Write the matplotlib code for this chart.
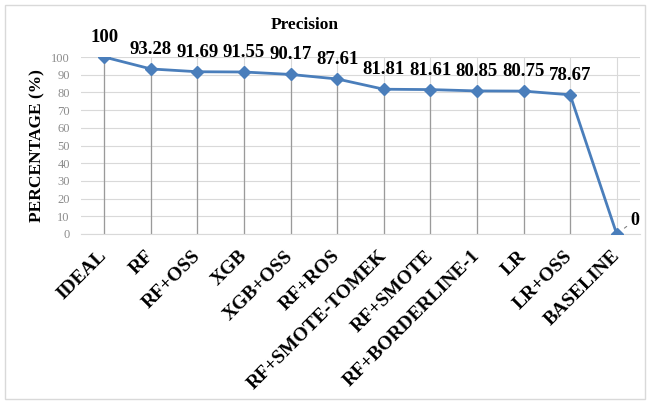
import numpy as np
import matplotlib
matplotlib.use('Agg')
import matplotlib.pyplot as plt
from matplotlib.patches import Rectangle

models = ['IDEAL', 'RF', 'RF+OSS', 'XGB', 'XGB+OSS', 'RF+ROS', 'RF+SMOTE-TOMEK',
          'RF+SMOTE', 'RF+BORDERLINE-1', 'LR', 'LR+OSS', 'BASELINE']
precision = [100, 93.28, 91.69, 91.55, 90.17, 87.61, 81.81, 81.61, 80.85, 80.75, 78.67, 0]
yticks = [0, 10, 20, 30, 40, 50, 60, 70, 80, 90, 100]

serif = ['Liberation Serif', 'DejaVu Serif']
line_color = '#4a7ebb'
grid_color = '#d9d9d9'

fig = plt.figure(figsize=(6.5, 4.04), dpi=100)
ax = fig.add_axes([0.1246, 0.4208, 0.86, 0.438])

x = np.arange(len(models))

# light vertical grid at each category, darker drop lines under the points
for xi, yi in zip(x, precision):
    ax.axvline(xi, color=grid_color, lw=0.8, zorder=0)
    ax.vlines(xi, 0, yi, color='#9a9a9a', lw=0.9, zorder=1)

ax.plot(x, precision, color=line_color, lw=2, marker='D', markersize=6,
        markerfacecolor=line_color, markeredgecolor=line_color, zorder=3)

for xi, yi in zip(x, precision):
    txt = f'{yi:g}'
    if yi == 0:
        ax.annotate(txt, xy=(xi, yi), xytext=(10, 10), textcoords='offset points',
                    ha='left', va='center', fontsize=13, fontweight='bold',
                    family=serif, color='black',
                    arrowprops=dict(arrowstyle='-', color='#808080', lw=0.8,
                                    shrinkA=1, shrinkB=7))
    else:
        ax.annotate(txt, xy=(xi, yi), xytext=(0, 14), textcoords='offset points',
                    ha='center', va='center', fontsize=13.5, fontweight='bold',
                    family=serif, color='black')

ax.set_xlim(-0.5, len(models) - 0.5)
ax.set_ylim(0, 100)
ax.set_yticks(yticks)
ax.yaxis.grid(True, color=grid_color, lw=0.8, zorder=0)
ax.set_axisbelow(True)

ax.set_xticks(x)
ax.set_xticklabels(models, rotation=45, ha='right', va='center',
                   rotation_mode='anchor', fontsize=14, fontweight='bold',
                   family=serif)
ax.tick_params(axis='x', length=0, pad=14)
ax.tick_params(axis='y', length=0, pad=8, labelsize=9, labelcolor='#8c8c8c')
for lab in ax.get_yticklabels():
    lab.set_family(serif)

for side in ['top', 'right', 'left']:
    ax.spines[side].set_visible(False)
ax.spines['bottom'].set_color(grid_color)
ax.spines['bottom'].set_linewidth(0.8)

ax.set_ylabel('PERCENTAGE (%)', fontsize=12.5, fontweight='bold', family=serif,
              labelpad=4)
fig.text(0.469, 0.938, 'Precision', ha='center', va='center', fontsize=12.5,
         fontweight='bold', family=serif)

# chart frame
fig.patches.append(Rectangle((5 / 650, 5 / 404), 640 / 650, 394 / 404,
                             transform=fig.transFigure, fill=False,
                             edgecolor='#d9d9d9', lw=1))

fig.savefig('out.png', dpi=100)
